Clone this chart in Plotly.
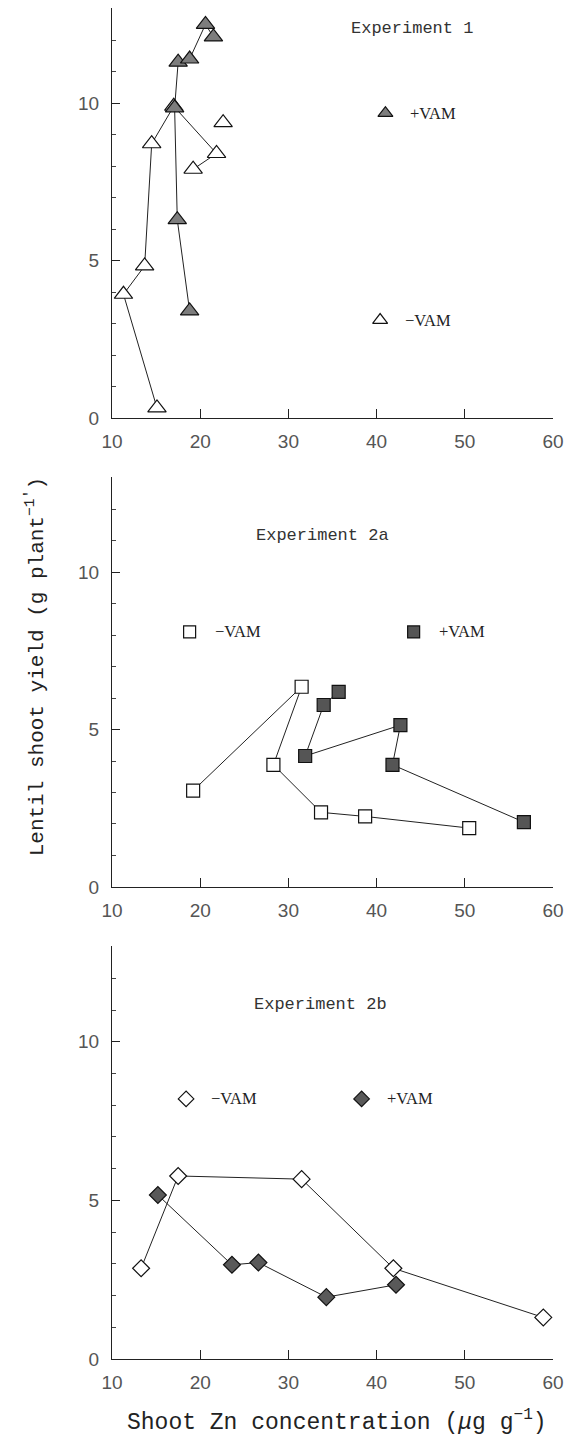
import plotly.graph_objects as go

# ---------------- data ----------------
# Experiment 1 (triangles)
exp1_minus_x = [15.1, 11.3, 13.7, 14.5, 17.0, 21.85, 19.2, None, 22.6]
exp1_minus_y = [0.32, 3.93, 4.83, 8.71, 9.9, 8.4, 7.9, None, 9.38]
exp1_plus_x = [18.8, 17.4, 17.1, 17.5, 18.8, 20.6, 21.5]
exp1_plus_y = [3.4, 6.3, 9.85, 11.3, 11.4, 12.5, 12.1]

# Experiment 2a (squares)
exp2a_minus_x = [19.2, 31.5, 28.3, 33.7, 38.7, 50.5]
exp2a_minus_y = [3.06, 6.36, 3.88, 2.37, 2.24, 1.87]
exp2a_plus_x = [35.7, 34.0, 31.9, 42.7, 41.8, 56.7]
exp2a_plus_y = [6.2, 5.78, 4.16, 5.14, 3.88, 2.06]

# Experiment 2b (diamonds)
exp2b_minus_x = [13.3, 17.5, 31.5, 41.9, 58.9]
exp2b_minus_y = [2.86, 5.77, 5.67, 2.86, 1.31]
exp2b_plus_x = [15.2, 23.6, 26.6, 34.3, 42.2]
exp2b_plus_y = [5.17, 2.97, 3.04, 1.95, 2.34]

x_tickvals = [10, 20, 30, 40, 50, 60]
y_tickvals = [0, 5, 10]
panel_titles = ["Experiment 1", "Experiment 2a", "Experiment 2b"]
series_labels = ["\u2212VAM", "+VAM"]

# legend-key anchor points (data units of each panel): (minus_x, minus_y, plus_x, plus_y)
key_pos = [
    (40.4, 3.11, 41.0, 9.68),
    (18.8, 8.1, 44.2, 8.1),
    (18.4, 8.2, 38.3, 8.2),
]
key_text_dx = 2.6
title_pos = [(44.0, 12.37), (33.9, 11.17), (33.6, 11.17)]

# ---------------- styles ----------------
LINE = dict(color="#222222", width=1)
OPEN = dict(color="white", line=dict(color="#111111", width=1.2))
FILL_TRI = dict(color="#7d7d7d", line=dict(color="#111111", width=1.2))
FILL_SQ = dict(color="#555555", line=dict(color="#111111", width=1.2))
FILL_DI = dict(color="#595959", line=dict(color="#111111", width=1.2))

panels = [
    ("x", "y", "triangle-up", 16, (exp1_minus_x, exp1_minus_y), (exp1_plus_x, exp1_plus_y), FILL_TRI),
    ("x2", "y2", "square", 13, (exp2a_minus_x, exp2a_minus_y), (exp2a_plus_x, exp2a_plus_y), FILL_SQ),
    ("x3", "y3", "diamond", 13, (exp2b_minus_x, exp2b_minus_y), (exp2b_plus_x, exp2b_plus_y), FILL_DI),
]

fig = go.Figure()
annotations = []
for i, (xa, ya, sym, size, minus, plus, fill) in enumerate(panels):
    fig.add_trace(go.Scatter(x=minus[0], y=minus[1], xaxis=xa, yaxis=ya, mode="lines+markers",
                             line=LINE, marker=dict(symbol=sym, size=size, **OPEN),
                             connectgaps=False, showlegend=False))
    fig.add_trace(go.Scatter(x=plus[0], y=plus[1], xaxis=xa, yaxis=ya, mode="lines+markers",
                             line=LINE, marker=dict(symbol=sym, size=size, **fill),
                             showlegend=False))
    kmx, kmy, kpx, kpy = key_pos[i]
    ksize = size - 3 if sym == "triangle-up" else size - 1
    fig.add_trace(go.Scatter(x=[kmx], y=[kmy], xaxis=xa, yaxis=ya, mode="markers",
                             marker=dict(symbol=sym, size=ksize, **OPEN), showlegend=False))
    fig.add_trace(go.Scatter(x=[kpx], y=[kpy], xaxis=xa, yaxis=ya, mode="markers",
                             marker=dict(symbol=sym, size=ksize, **fill), showlegend=False))
    vam_font = dict(family="Liberation Serif", size=16.5, color="#222222")
    annotations.append(dict(x=kmx + key_text_dx, y=kmy, xref=xa, yref=ya, text=series_labels[0],
                            showarrow=False, xanchor="left", yanchor="middle", font=vam_font))
    annotations.append(dict(x=kpx + key_text_dx, y=kpy, xref=xa, yref=ya, text=series_labels[1],
                            showarrow=False, xanchor="left", yanchor="middle", font=vam_font))
    tx, ty = title_pos[i]
    annotations.append(dict(x=tx, y=ty, xref=xa, yref=ya, text=panel_titles[i], showarrow=False,
                            xanchor="center", yanchor="middle",
                            font=dict(family="Liberation Mono", size=17, color="#333333")))

annotations.append(dict(x=0.511, y=-0.0459, xref="paper", yref="paper",
                        text="Shoot Zn concentration (<i>\u03bc</i>g g<sup>\u22121</sup>)",
                        showarrow=False, xanchor="center", yanchor="middle",
                        font=dict(family="Liberation Mono", size=23, color="#222222")))
annotations.append(dict(x=-0.1746, y=0.512, xref="paper", yref="paper", textangle=-90,
                        text="Lentil shoot yield (g plant<sup>\u22121'</sup>)",
                        showarrow=False, xanchor="center", yanchor="middle",
                        font=dict(family="Liberation Mono", size=21, color="#222222")))

tickfont = dict(family="Liberation Sans", size=19, color="#555555")

def xaxis(anchor):
    return dict(range=[10, 60], tickvals=x_tickvals, ticks="inside", ticklen=9, tickwidth=1,
                tickcolor="#222222", showline=True, linecolor="#222222", linewidth=1.2,
                showgrid=False, zeroline=False, tickfont=tickfont, anchor=anchor,
                ticklabelstandoff=6, domain=[0, 1])

def yaxis(anchor, dom):
    return dict(range=[0, 13.02], tickvals=y_tickvals, ticks="inside", ticklen=8, tickwidth=1,
                tickcolor="#222222", showline=True, linecolor="#222222", linewidth=1.2,
                showgrid=False, zeroline=False, tickfont=tickfont, anchor=anchor, domain=dom,
                ticklabelstandoff=8,
                minor=dict(dtick=1, tick0=0, ticks="inside", ticklen=4, tickcolor="#444444",
                           showgrid=False))

fig.update_layout(
    width=577, height=1438,
    margin=dict(l=112, r=24, t=8, b=79),
    paper_bgcolor="white", plot_bgcolor="white",
    xaxis=xaxis("y"), yaxis=yaxis("x", [0.6965, 1.0]),
    xaxis2=xaxis("y2"), yaxis2=yaxis("x2", [0.3494, 0.6528]),
    xaxis3=xaxis("y3"), yaxis3=yaxis("x3", [0.0, 0.3057]),
    annotations=annotations,
    showlegend=False,
)

fig.write_html("out.html")
